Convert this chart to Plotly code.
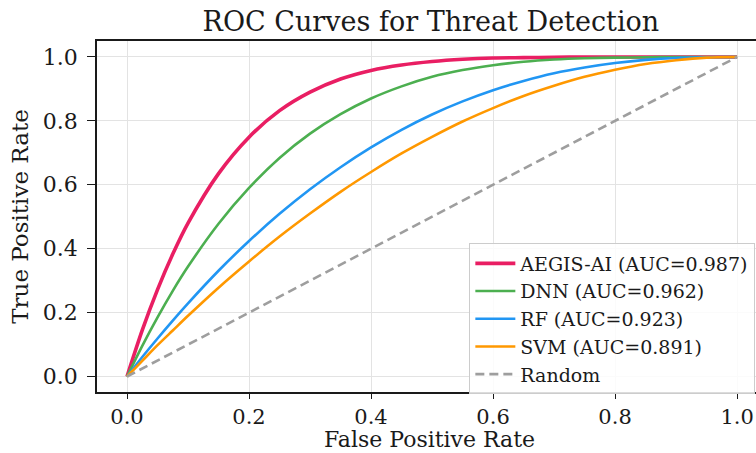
import plotly.graph_objects as go

fpr = [0.0, 0.025, 0.05, 0.075, 0.10, 0.15, 0.20, 0.25, 0.30, 0.35, 0.40, 0.45,
       0.50, 0.55, 0.60, 0.65, 0.70, 0.75, 0.80, 0.85, 0.90, 0.95, 1.0]

tpr_aegis = [0.0, 0.145, 0.272, 0.383, 0.480, 0.635, 0.749, 0.832, 0.890, 0.931, 0.958, 0.975,
             0.986, 0.993, 0.997, 0.998, 0.999, 1.0, 1.0, 1.0, 1.0, 1.0, 1.0]
tpr_dnn = [0.0, 0.096, 0.185, 0.268, 0.344, 0.478, 0.590, 0.684, 0.760, 0.821, 0.870, 0.908,
           0.938, 0.959, 0.974, 0.985, 0.992, 0.996, 0.998, 0.999, 1.0, 1.0, 1.0]
tpr_rf = [0.0, 0.061, 0.119, 0.175, 0.229, 0.331, 0.424, 0.509, 0.586, 0.655, 0.717, 0.772,
          0.820, 0.861, 0.896, 0.925, 0.949, 0.967, 0.981, 0.991, 0.997, 0.999, 1.0]
tpr_svm = [0.0, 0.049, 0.098, 0.144, 0.190, 0.278, 0.360, 0.438, 0.510, 0.578, 0.640, 0.698,
           0.750, 0.798, 0.840, 0.878, 0.910, 0.938, 0.960, 0.978, 0.990, 0.998, 1.0]
random_x = [0.0, 1.0]
random_y = [0.0, 1.0]

names = ["AEGIS-AI (AUC=0.987)", "DNN (AUC=0.962)", "RF (AUC=0.923)", "SVM (AUC=0.891)"]
series = [tpr_aegis, tpr_dnn, tpr_rf, tpr_svm]
colors = ["#E91E63", "#4CAF50", "#2196F3", "#FF9800"]
widths = [3.6, 2.6, 2.6, 2.6]

tick_vals = [0.0, 0.2, 0.4, 0.6, 0.8, 1.0]
tick_text = ["0.0", "0.2", "0.4", "0.6", "0.8", "1.0"]

FONT = "DejaVu Serif"
INK = "#1a1a1a"

fig = go.Figure()
for nm, ys, c, w in zip(names, series, colors, widths):
    fig.add_trace(go.Scatter(x=fpr, y=ys, mode="lines", name=nm,
                             line=dict(color=c, width=w, shape="spline", smoothing=0.8)))
fig.add_trace(go.Scatter(x=random_x, y=random_y, mode="lines", name="Random",
                         line=dict(color="#9E9E9E", width=2.6, dash="9px,5px")))

fig.update_layout(
    width=756, height=453,
    margin=dict(l=97, r=0, t=41, b=61, autoexpand=False),
    paper_bgcolor="white", plot_bgcolor="white",
    font=dict(family=FONT, color=INK),
    title=dict(text="ROC Curves for Threat Detection", font=dict(family=FONT, size=27, color=INK),
               x=0.57, xref="container", xanchor="center",
               y=1 - 22 / 453, yref="container", yanchor="middle"),
    legend=dict(x=0.999, xanchor="right", y=0.208, yanchor="middle",
                bgcolor="rgba(255,255,255,0.85)", bordercolor="#cccccc", borderwidth=1,
                font=dict(family=FONT, size=19, color=INK), itemwidth=40),
    showlegend=True,
)
fig.add_annotation(text="False Positive Rate", xref="paper", yref="paper",
                   x=0.505, y=-61 / 351, xanchor="center", yanchor="bottom",
                   showarrow=False, borderpad=0,
                   font=dict(family=FONT, size=22, color=INK))
fig.update_xaxes(range=[-0.0492, 1.031], tickvals=tick_vals, ticktext=tick_text, automargin=False,
                 showgrid=True, gridcolor="#e3e3e3", gridwidth=1, zeroline=False,
                 showline=True, linecolor=INK, linewidth=1.5, mirror=True,
                 ticks="outside", ticklen=5, tickwidth=1.2, tickcolor=INK, ticklabelstandoff=0,
                 tickfont=dict(family=FONT, size=21, color=INK))
fig.update_yaxes(range=[-0.0485, 1.05], tickvals=tick_vals, ticktext=tick_text, automargin=False,
                 showgrid=True, gridcolor="#e3e3e3", gridwidth=1, zeroline=False,
                 showline=True, linecolor=INK, linewidth=1.5, mirror=False,
                 ticks="outside", ticklen=8, tickwidth=1.2, tickcolor=INK, ticklabelstandoff=5,
                 tickfont=dict(family=FONT, size=22, color=INK),
                 title=dict(text="True Positive Rate", font=dict(family=FONT, size=23, color=INK),
                            standoff=8))

fig.write_html("out.html", config={"displayModeBar": False},
               post_script="document.body.style.margin='0px';")
